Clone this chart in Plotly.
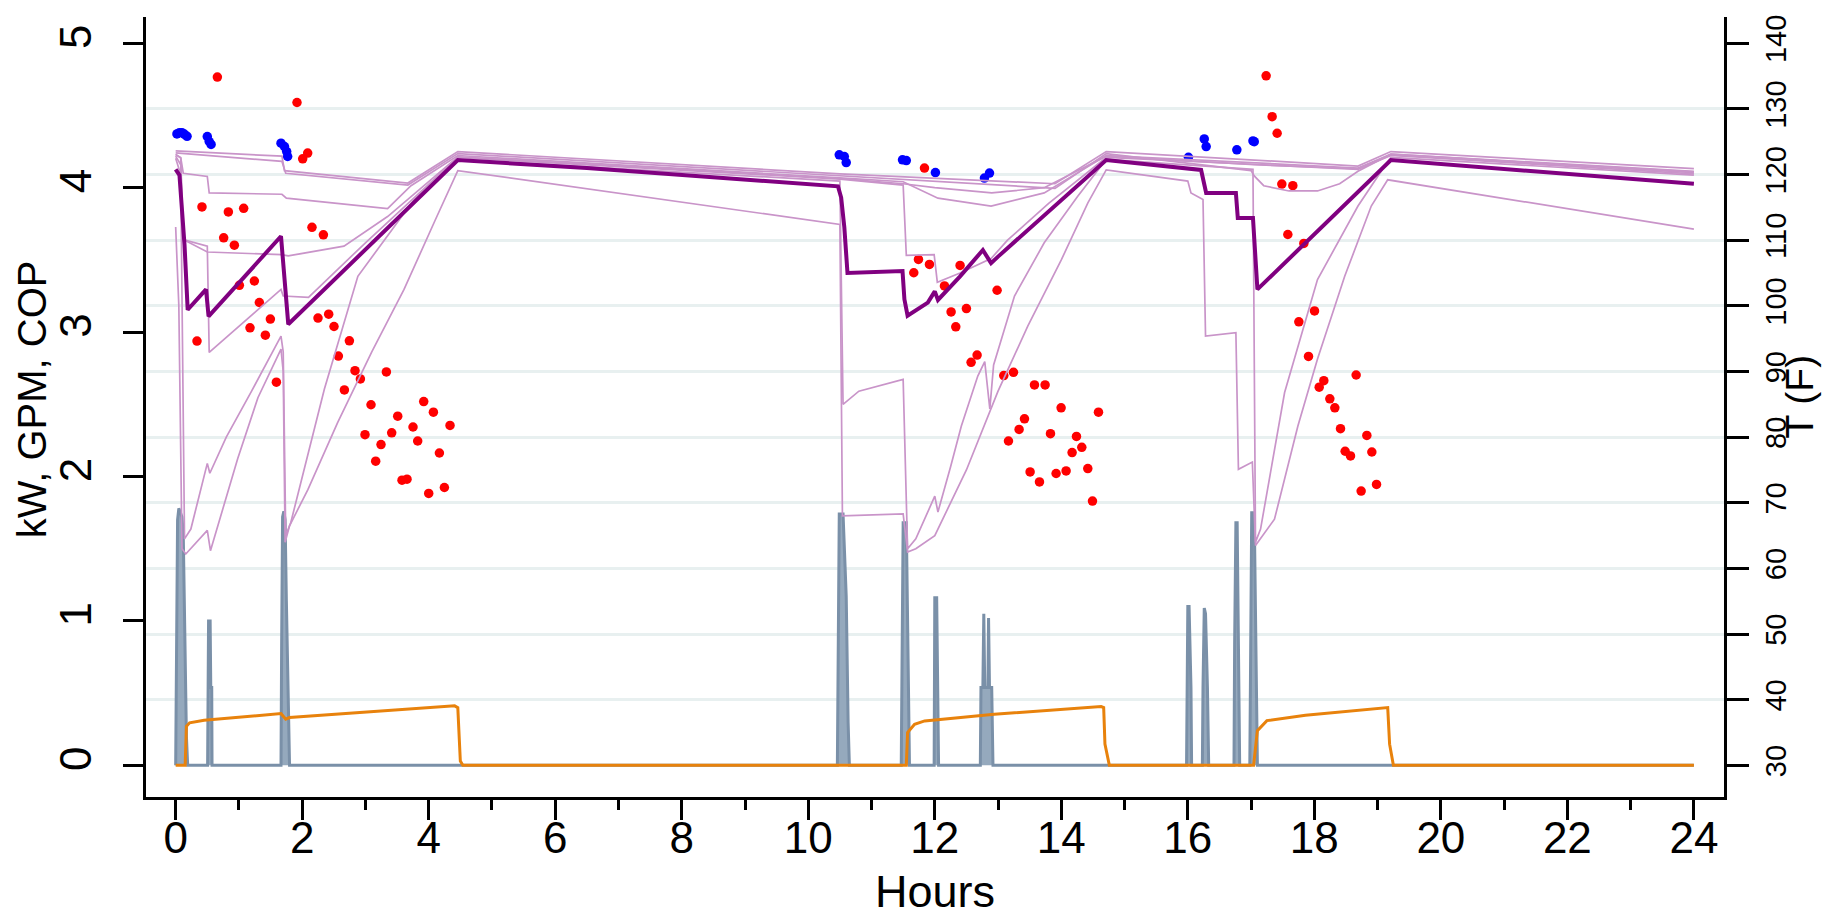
import plotly.graph_objects as go

# ---------------- data ----------------
# Flow (GPM) - left axis
gpm_h = [0.0, 0.01, 0.03, 0.05, 0.07, 0.10, 0.12, 0.15, 0.17, 0.19,
         0.505, 0.52, 0.545, 0.555, 0.57, 0.575,
         1.665, 1.675, 1.69, 1.71, 1.73, 1.75, 1.78, 1.80,
         10.46, 10.47, 10.49, 10.55, 10.60, 10.63, 10.65,
         11.47, 11.48, 11.50, 11.55, 11.58, 11.60,
         11.99, 12.00, 12.03, 12.04, 12.06,
         12.72, 12.73, 12.76, 12.775, 12.79, 12.84, 12.85, 12.865, 12.90, 12.92,
         15.98, 15.99, 16.00, 16.02, 16.05, 16.06,
         16.23, 16.24, 16.26, 16.28, 16.31, 16.33,
         16.73, 16.74, 16.76, 16.78, 16.80, 16.82,
         16.98, 16.99, 17.01, 17.05, 17.08, 17.10, 24.0]
gpm_v = [0.0, 0.84, 1.70, 1.78, 1.75, 1.72, 1.60, 0.73, 0.20, 0.0,
         0.0, 1.00, 1.00, 0.54, 0.54, 0.0,
         0.0, 0.83, 1.72, 1.76, 1.70, 1.14, 0.26, 0.0,
         0.0, 0.80, 1.74, 1.74, 1.17, 0.30, 0.0,
         0.0, 0.80, 1.68, 1.68, 0.82, 0.0,
         0.0, 1.16, 1.16, 0.61, 0.0,
         0.0, 0.54, 0.54, 1.05, 0.54, 0.54, 1.02, 0.54, 0.54, 0.0,
         0.0, 0.54, 1.10, 1.10, 0.54, 0.0,
         0.0, 0.54, 1.09, 1.05, 0.54, 0.0,
         0.0, 0.84, 1.68, 1.68, 1.00, 0.0,
         0.0, 0.72, 1.75, 1.75, 0.70, 0.0, 0.0]

# Heat pump power (kW) - left axis
kw_h = [0.0, 0.15, 0.17, 0.22, 0.45, 1.665, 1.74, 1.80, 4.41, 4.46, 4.50, 4.54,
        11.55, 11.57, 11.68, 11.84, 12.94, 14.63, 14.67, 14.69, 14.76,
        17.04, 17.10, 17.25, 17.86, 19.16, 19.19, 19.25, 24.0]
kw_v = [0.0, 0.0, 0.27, 0.295, 0.312, 0.359, 0.32, 0.331, 0.412, 0.40, 0.03, 0.0,
        0.0, 0.228, 0.285, 0.308, 0.354, 0.407, 0.40, 0.147, 0.0,
        0.0, 0.24, 0.31, 0.347, 0.40, 0.147, 0.0, 0.0]

# COP points (red) - left axis
cop_red_h = [0.659, 1.918, 2.008, 2.087, 0.416, 0.833, 1.075, 0.759, 0.928, 2.155,
             2.335, 1.007, 1.244, 1.323, 1.497, 1.175, 1.418, 0.337, 1.592, 2.250,
             2.419, 2.503, 2.746, 2.572, 2.835, 2.920, 3.331, 2.667, 3.088, 3.510,
             3.921, 4.074, 4.337, 2.993, 3.415, 3.752, 3.826, 3.246, 4.169, 3.162,
             3.578, 3.657, 4.000, 4.248,
             11.837, 11.742, 11.916, 11.668, 12.400, 12.153, 12.985, 12.258, 12.500, 12.332,
             12.669, 12.574, 13.091, 13.244, 13.576, 13.744, 13.997, 14.588, 13.418, 13.333,
             13.165, 13.829, 14.240, 14.324, 14.171, 14.419, 13.507, 13.655, 13.918, 14.076,
             14.493,
             17.238, 17.333, 17.412, 17.486, 17.660, 17.581, 17.834, 18.003, 17.755, 17.908,
             18.661, 18.150, 18.077, 18.245, 18.324, 18.414, 18.830, 18.487, 18.572, 18.909,
             18.983, 18.740]
cop_red_v = [4.766, 4.590, 4.200, 4.240, 3.867, 3.832, 3.857, 3.653, 3.602, 3.726,
             3.674, 3.324, 3.354, 3.205, 3.090, 3.030, 2.979, 2.938, 2.653, 3.097,
             3.124, 3.039, 2.940, 2.834, 2.733, 2.676, 2.724, 2.600, 2.497, 2.418,
             2.519, 2.446, 2.354, 2.290, 2.303, 2.343, 2.246, 2.221, 2.163, 2.106,
             1.975, 1.982, 1.883, 1.924,
             4.136, 3.503, 3.469, 3.411, 3.462, 3.320, 3.290, 3.140, 3.163, 3.037,
             2.841, 2.791, 2.699, 2.722, 2.634, 2.634, 2.476, 2.446, 2.400, 2.326,
             2.246, 2.297, 2.278, 2.202, 2.166, 2.055, 2.032, 1.963, 2.021, 2.039,
             1.830,
             4.775, 4.492, 4.377, 4.025, 4.014, 3.676, 3.614, 3.147, 3.071, 2.832,
             2.703, 2.664, 2.619, 2.538, 2.476, 2.331, 2.285, 2.175, 2.143, 2.170,
             1.945, 1.899]

# COP points during draws (blue) - left axis
cop_blue_h = [0.02, 0.06, 0.10, 0.14, 0.18, 0.50, 0.53, 0.56, 1.665, 1.72, 1.755, 1.77,
              10.49, 10.57, 10.60, 11.49, 11.55, 12.01, 12.785, 12.865,
              16.01, 16.26, 16.29, 16.775, 17.03, 17.05]
cop_blue_v = [4.372, 4.381, 4.381, 4.370, 4.356, 4.354, 4.320, 4.300, 4.308, 4.285, 4.250, 4.216,
              4.228, 4.216, 4.174, 4.193, 4.188, 4.105, 4.067, 4.101,
              4.210, 4.338, 4.285, 4.262, 4.324, 4.319]

# Tank node temperatures (F) - right axis
node1_h = [0, 1.68, 1.72, 3.67, 4.46, 10.50, 13.90, 14.71, 18.69, 19.21, 24.0]
node1_T = [123.6, 122.8, 120.6, 118.7, 123.5, 120.1, 118.6, 123.5, 121.3, 123.5, 120.9]

node2_h = [0, 1.68, 1.74, 3.67, 4.46, 10.50, 13.15, 13.90, 14.71, 16.26, 17.00, 17.05,
           17.20, 17.60, 18.05, 18.40, 18.69, 19.21, 24.0]
node2_T = [123.3, 122.0, 120.2, 118.4, 123.2, 119.8, 118.4, 117.9, 123.2, 121.5, 120.6, 119.8,
           118.3, 117.5, 117.5, 118.6, 120.5, 123.1, 120.5]

node3_h = [0, 0.08, 0.12, 0.50, 0.53, 1.68, 1.75, 3.35, 3.72, 4.46, 10.50, 11.50, 12.05,
           12.89, 13.73, 14.71, 18.69, 19.21, 24.0]
node3_T = [123.0, 122.6, 120.2, 119.7, 117.2, 117.0, 116.4, 114.8, 118.3, 122.9, 119.5, 118.9, 116.4,
           115.2, 117.2, 122.9, 121.0, 123.1, 120.3]

node4_h = [0, 0.08, 0.12, 0.50, 0.53, 1.665, 1.70, 2.10, 3.00, 4.46, 10.50, 11.50, 11.55,
           11.99, 12.04, 12.40, 12.89, 13.15, 13.80, 14.71, 18.69, 19.21, 24.0]
node4_T = [122.8, 121.5, 110.1, 109.1, 92.9, 102.5, 101.5, 101.3, 109.6, 122.6, 119.3, 118.4, 107.7,
           107.8, 103.6, 105.0, 107.2, 110.0, 115.6, 122.6, 120.8, 122.9, 120.1]

node5_h = [0, 0.08, 0.14, 0.24, 0.50, 0.54, 0.80, 1.20, 1.665, 1.70, 1.74, 1.82, 2.35, 2.88,
           3.77, 4.46, 10.50, 10.55, 10.80, 11.50, 11.57, 11.70, 12.00, 12.05, 12.25, 12.42,
           12.68, 12.79, 12.87, 12.93, 13.26, 13.73, 14.26, 14.71, 17.03, 17.07, 17.15, 17.53,
           18.05, 18.69, 19.16, 19.21, 24.0]
node5_T = [122.5, 120.0, 64.5, 66.0, 76.0, 74.5, 80.0, 87.0, 95.4, 93.0, 65.0, 67.0, 87.3, 104.5,
           116.2, 122.3, 119.0, 85.0, 87.0, 88.8, 63.0, 64.5, 71.0, 68.6, 75.5, 81.7,
           89.3, 91.5, 84.3, 91.0, 101.5, 109.6, 116.7, 122.3, 120.8, 64.0, 66.0, 86.8,
           104.0, 115.2, 122.0, 122.6, 119.9]

node6_h = [0, 0.05, 0.10, 0.16, 0.50, 0.55, 0.98, 1.30, 1.665, 1.70, 1.73, 1.80, 2.09, 2.56,
           3.10, 3.61, 4.10, 4.46, 10.50, 10.54, 11.50, 11.57, 11.70, 12.00, 12.50, 13.00,
           13.47, 14.00, 14.42, 14.71, 16.00, 16.05, 16.24, 16.28, 16.76, 16.80, 17.02, 17.07,
           17.37, 17.74, 18.05, 18.48, 18.90, 19.16, 24.0]
node6_T = [112.0, 100.0, 63.0, 62.2, 65.8, 62.7, 76.7, 86.0, 93.4, 90.0, 64.0, 66.5, 72.0, 82.2,
           93.0, 102.5, 113.0, 120.6, 112.4, 68.0, 68.3, 62.5, 63.0, 65.0, 75.0, 87.0,
           96.9, 107.0, 115.7, 120.7, 119.0, 117.2, 116.2, 95.4, 95.9, 75.1, 76.2, 63.5,
           67.5, 81.7, 91.9, 104.5, 115.2, 119.2, 111.7]

node7_h = [0, 0.08, 0.12, 0.50, 1.67, 1.78, 2.66, 3.35, 4.46, 10.50, 11.50, 12.00, 12.90,
           13.73, 14.71, 17.05, 18.69, 19.21, 24.0]
node7_T = [123.1, 122.5, 110.1, 108.2, 107.8, 107.6, 109.1, 113.6, 122.7, 119.4, 118.6, 118.0, 117.2,
           118.0, 122.8, 121.5, 120.9, 123.0, 120.4]

# Average tank temperature (F) - right axis
avg_h = [0, 0.06, 0.14, 0.19, 0.48, 0.52, 1.665, 1.78, 4.46, 6.50, 10.47, 10.52, 10.57, 10.62,
         11.49, 11.52, 11.57, 11.89, 12.00, 12.05, 12.40, 12.76, 12.89, 13.00, 14.71, 16.21,
         16.29, 16.76, 16.79, 17.03, 17.10, 19.21, 24.0]
avg_T = [120.8, 119.9, 109.3, 99.4, 102.5, 98.4, 110.6, 97.2, 122.2, 121.0, 118.2, 116.5, 112.0, 105.0,
         105.3, 101.0, 98.5, 100.5, 102.2, 100.9, 104.5, 108.5, 106.5, 107.5, 122.2, 120.7,
         117.2, 117.2, 113.4, 113.4, 102.5, 122.2, 118.6]

hour_ticks = list(range(0, 25, 2))
left_ticks = [0, 1, 2, 3, 4, 5]
temp_ticks = list(range(30, 150, 10))
temp_grid = list(range(40, 140, 10))

# ---------------- figure ----------------
FONT = "Liberation Sans, Arial, sans-serif"
LIGHT = "#c994c9"
DARK = "#800080"
GRAY = "#7a90a8"
ORANGE = "#e8820c"

fig = go.Figure()
fig.add_trace(go.Scatter(x=gpm_h, y=gpm_v, mode="lines", yaxis="y",
                         line=dict(color=GRAY, width=3), fill="tozeroy",
                         fillcolor="#95a9bd", hoverinfo="skip"))
fig.add_trace(go.Scatter(x=kw_h, y=kw_v, mode="lines", yaxis="y",
                         line=dict(color=ORANGE, width=3)))
fig.add_trace(go.Scatter(x=cop_red_h, y=cop_red_v, mode="markers", yaxis="y",
                         marker=dict(color="#ff0000", size=9.5, line=dict(width=0))))
fig.add_trace(go.Scatter(x=cop_blue_h, y=cop_blue_v, mode="markers", yaxis="y",
                         marker=dict(color="#0000ff", size=9.5, line=dict(width=0))))

for hh, tt in [(node1_h, node1_T), (node2_h, node2_T), (node3_h, node3_T),
               (node4_h, node4_T), (node5_h, node5_T), (node6_h, node6_T),
               (node7_h, node7_T)]:
    fig.add_trace(go.Scatter(x=hh, y=tt, mode="lines", yaxis="y2",
                             line=dict(color=LIGHT, width=1.7)))
fig.add_trace(go.Scatter(x=avg_h, y=avg_T, mode="lines", yaxis="y2",
                         line=dict(color=DARK, width=4)))

axis_common = dict(showline=True, linewidth=2.5, linecolor="black", ticks="outside",
                   tickwidth=2.5, tickcolor="black", zeroline=False, showgrid=False)

fig.update_layout(
    width=1833, height=916,
    margin=dict(l=138, r=117, t=7, b=127, pad=0),
    paper_bgcolor="white", plot_bgcolor="white",
    showlegend=False,
    font=dict(family=FONT, color="black"),
    xaxis=dict(range=[-0.469, 24.476], tickvals=hour_ticks, ticklen=20,
               tickfont=dict(size=44), ticklabelstandoff=-20,
               minor=dict(dtick=1, tick0=0, ticks="outside", ticklen=10, tickwidth=2.5,
                          tickcolor="black", showgrid=False),
               **axis_common),
    yaxis=dict(range=[-0.219, 5.182], side="left", tickvals=left_ticks, ticklen=20,
               tickangle=-90, tickfont=dict(size=44), ticklabelstandoff=15,
               **axis_common),
    yaxis2=dict(range=[25.18, 144.0], side="right", overlaying="y", tickvals=temp_ticks,
                ticklen=22, tickangle=-90, tickfont=dict(size=29), ticklabelstandoff=2,
                minor=dict(tickvals=temp_grid, ticks="", showgrid=True,
                           gridcolor="#e8f0f0", gridwidth=3),
                **axis_common),
    annotations=[
        dict(text="Hours", x=0.5, y=-0.121, xref="paper", yref="paper",
             showarrow=False, font=dict(size=45), xanchor="center", yanchor="middle"),
        dict(text="kW, GPM, COP", x=-0.0722, y=0.51, xref="paper", yref="paper",
             showarrow=False, textangle=-90, font=dict(size=40),
             xanchor="center", yanchor="middle"),
        dict(text="T (F)", x=1.048, y=0.513, xref="paper", yref="paper",
             showarrow=False, textangle=-90, font=dict(size=39),
             xanchor="center", yanchor="middle"),
    ],
)

fig.write_html("out.html")
